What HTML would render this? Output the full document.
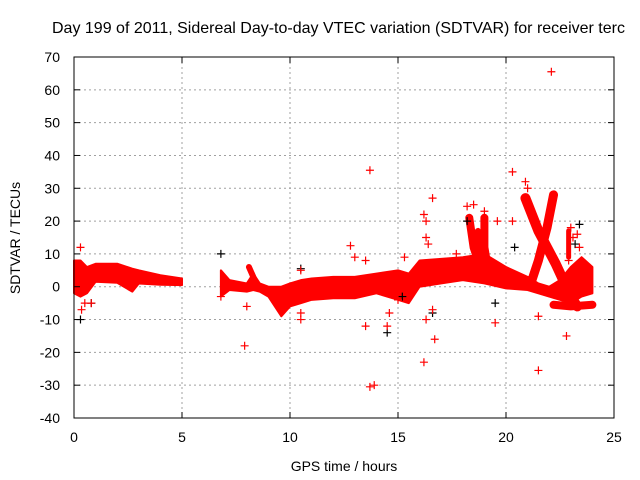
<!DOCTYPE html>
<html><head><meta charset="utf-8"><style>
body{margin:0;background:#fff}
svg{display:block;font-family:"Liberation Sans",sans-serif}
</style></head><body>
<svg id="c" width="640" height="480">
<text x="52" y="33" font-size="16">Day 199 of 2011, Sidereal Day-to-day VTEC variation (SDTVAR) for receiver terc</text>
<text x="344" y="471" font-size="14" text-anchor="middle">GPS time / hours</text>
<text transform="translate(20,238) rotate(-90)" font-size="14" text-anchor="middle">SDTVAR / TECUs</text>
<g id="grid"></g><g id="marks"></g><g id="axes"></g>
</svg>
<script>
const xTicks=[0,5,10,15,20,25];
const yTicks=[70,60,50,40,30,20,10,0,-10,-20,-30,-40];
// dense band envelopes: hours, upper TECU, lower TECU
const bandAHours=[0,0.3,0.6,1,2,2.7,3,4,5];
const bandAUpper=[8,8,6,7,7,5.5,5,3.5,2.5];
const bandALower=[-2,-3,-2,1.5,1.2,-1.5,1,0.6,0.5];
const bandBHours=[6.8,7.2,8,8.3,8.6,9,9.6,10,10.5,11,12,13,14,15,15.5,16,17,18,19,20,21,21.5,22,22.5,23,23.5,24];
const bandBUpper=[5,2,1,4,1,0,0,1,2,2.5,3,3,4,5,4,8,8.5,9,10,6,3,1,0,2,6,9,6];
const bandBLower=[-3,-1,-1.5,-1,-1.5,-3,-9,-6,-5,-4,-3.5,-3.5,-2,-4,-5,0,1,2,1,-0.5,-1,-2,-3,-4,-5,-3,-2];
// thick strands: [hour, TECU] centerlines
const strand8=[[8.1,6],[8.3,3],[8.4,1]];
const spikeA=[[18.3,21],[18.5,12],[18.7,8]];
const spikeB=[[19,21],[19,12],[19.1,8]];
const spikeC=[[18.7,17],[18.8,10]];
const xA=[[20.9,27],[21.5,17],[22.3,7],[23,-3],[23.3,-6]];
const xB=[[22.2,28],[21.9,18],[21.5,8],[21.2,2]];
const bottomR=[[22.2,-5.5],[23,-6],[24,-5.5]];
const spikeR=[[22.9,17],[22.9,9]];
const redPts=[[0.3,12],[0.5,-5],[0.35,-7],[0.8,-5],[6.8,-3],[7.9,-18],[8,-6],[10.5,5],[10.5,-8],[10.5,-10],[12.8,12.5],[13,9],[13.5,8],[13.7,35.5],[13.7,-30.5],[13.9,-30],[13.5,-12],[14.5,-12],[14.6,-8],[16.2,22],[16.3,20],[16.3,15],[16.4,13],[16.3,-10],[16.2,-23],[16.6,27],[16.7,-16],[16.6,-7],[18.2,24.5],[18.5,25],[19,23],[19.6,20],[19.5,-11],[20.3,35],[20.3,20],[20.9,32],[21,30],[21.5,-25.5],[21.5,-9],[22.1,65.5],[22.8,-15],[23,18],[23.1,15],[23.3,16],[23.4,12],[22.9,8],[15.3,9],[15,-4],[17.7,10],[18.5,3],[12.5,-2]];
const blackPts=[[6.8,10],[0.3,-10],[0.8,-5],[10.5,5.5],[14.5,-14],[19.5,-5],[23.4,19],[16.6,-8],[18.2,20],[20.4,12],[23.2,13],[15.2,-3]];
const L=74,R=614,T=57,B=418,xmin=0,xmax=25,ymin=-40,ymax=70;
const sx=v=>L+(v-xmin)/(xmax-xmin)*(R-L);
const sy=v=>B-(v-ymin)/(ymax-ymin)*(B-T);
const NS='http://www.w3.org/2000/svg';
function mk(t,a,p){const e=document.createElementNS(NS,t);for(const k in a)e.setAttribute(k,a[k]);p.appendChild(e);return e;}
const grid=document.getElementById('grid'),marks=document.getElementById('marks'),axes=document.getElementById('axes');
xTicks.forEach(v=>{
 if(v>0&&v<25){const g=mk('line',{x1:sx(v),x2:sx(v),y1:T,y2:B,stroke:'#a0a0a0','stroke-dasharray':'2,3'},grid);
 }
 const t=mk('line',{x1:sx(v),x2:sx(v),y1:B,y2:B-6,stroke:'#000'},axes);
 
 const t2=mk('line',{x1:sx(v),x2:sx(v),y1:T,y2:T+6,stroke:'#000'},axes);
 
 const l=mk('text',{x:sx(v),y:B+24,'font-size':14,'text-anchor':'middle'},axes);l.textContent=v;
 
});
yTicks.forEach(v=>{
 if(v>-40&&v<70){const g=mk('line',{x1:L,x2:R,y1:sy(v),y2:sy(v),stroke:'#a0a0a0','stroke-dasharray':'2,3'},grid);
 }
 const t=mk('line',{x1:L,x2:L+6,y1:sy(v),y2:sy(v),stroke:'#000'},axes);
 
 const t2=mk('line',{x1:R,x2:R-6,y1:sy(v),y2:sy(v),stroke:'#000'},axes);
 
 const l=mk('text',{x:L-14,y:sy(v)+5,'font-size':14,'text-anchor':'end'},axes);l.textContent=v;
 
});
const fr=mk('rect',{x:L,y:T,width:R-L,height:B-T,fill:'none',stroke:'#000'},axes);

function envelope(h,u,lo){
 const pts=h.map((x,i)=>sx(x)+','+sy(u[i])).concat(h.map((x,i)=>sx(x)+','+sy(lo[i])).reverse());
 const p=mk('polygon',{points:pts.join(' '),fill:'#f00',stroke:'#f00','stroke-width':2,'stroke-linejoin':'round'},marks);
 }
envelope(bandAHours,bandAUpper,bandALower);
envelope(bandBHours,bandBUpper,bandBLower);
function band(pts,w){const p=mk('polyline',{points:pts.map(d=>sx(d[0])+','+sy(d[1])).join(' '),fill:'none',stroke:'#f00','stroke-width':w,'stroke-linejoin':'round','stroke-linecap':'round'},marks);
 }
band(strand8,6);band(spikeA,8);band(spikeB,8);band(spikeC,6);
band(xA,10);band(xB,9);band(bottomR,8);band(spikeR,5);
function plus(d,c){const x=sx(d[0]),y=sy(d[1]);
 const p=mk('path',{d:`M${x-4},${y}H${x+4}M${x},${y-4}V${y+4}`,stroke:c,'stroke-width':1.2},marks);
 }
blackPts.forEach(d=>plus(d,'#000'));
redPts.forEach(d=>plus(d,'#f00'));
</script>
</body></html>
